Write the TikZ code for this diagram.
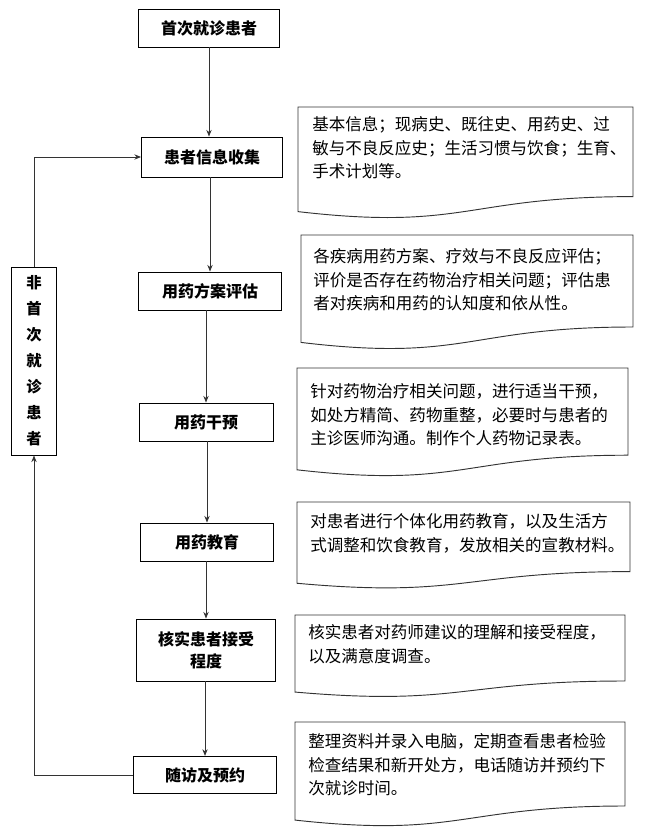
\documentclass[tikz,border=0pt]{standalone}
\usepackage{fontspec}
\setmainfont{Noto Sans CJK SC}
\usepackage{tikz}
\usetikzlibrary{calc,arrows.meta,positioning}

\tikzset{
  proc/.style={draw, line width=0.7pt, minimum width=105pt, minimum height=28.5pt, inner sep=0pt, align=center, font=\fontsize{12}{16.5}\selectfont\bfseries},
  side/.style={draw, line width=0.7pt, minimum width=34pt, minimum height=141pt, inner sep=0pt, align=center, font=\fontsize{11.5}{19.5}\selectfont\bfseries},
  note/.style={anchor=north west, inner sep=0pt, align=left, font=\fontsize{12.4}{17.6}\selectfont},
  docline/.style={line width=0.7pt, black!80},
  flow/.style={line width=0.7pt, black!80, -{Stealth[length=5pt,width=4pt]}}
}

% document shape: left, top, right, height
\newcommand{\docshape}[4]{%
  \draw[docline] (#1,#2) -- (#3,#2) -- (#3,#2+0.80*#4)
    .. controls ({(#1+#3)/2},#2+0.80*#4) and ({(#1+#3)/2},#2+1.107*#4) .. (#1,#2+0.934*#4) -- cycle;}

\begin{document}
\begin{tikzpicture}[x=0.75pt,y=-0.75pt]
  \useasboundingbox (0,0) rectangle (644,840);

  % main column
  \node[proc, minimum width=105.75pt] (first) at (209,28) {首次就诊患者};
  \node[proc, minimum width=105.75pt, minimum height=30pt] (collect) at (212,157) {患者信息收集};
  \node[proc, minimum width=107pt] (assess) at (210,291) {用药方案评估};
  \node[proc, minimum width=100.5pt] (interv) at (206,422) {用药干预};
  \node[proc, minimum width=100pt] (educ) at (207,542) {用药教育};
  \node[proc, minimum width=104pt, minimum height=46.5pt] (accept) at (206,650) {核实患者接受\\程度};
  \node[proc, minimum width=107pt, minimum height=28pt] (follow) at (205,775) {随访及预约};
  \node[side] (nonfirst) at (34,361) {非\\首\\次\\就\\诊\\患\\者};

  \draw[flow] (first) -- (first |- collect.north);
  \draw[flow] (collect.south -| assess) -- (assess.north);
  \draw[flow] (assess.south -| interv) -- (interv.north);
  \draw[flow] (interv.south -| educ) -- (educ.north);
  \draw[flow] (educ.south -| accept) -- (accept.north);
  \draw[flow] (accept.south -| follow) -- (follow.north);

  % return loop
  \draw[flow] (follow.west) -| (nonfirst.south);
  \draw[flow] (nonfirst.north) |- (collect.west);

  % notes
  \docshape{298}{107}{633}{112}
  \node[note] (infonote) at (312,116.5) {基本信息；现病史、既往史、用药史、过\\敏与不良反应史；生活习惯与饮食；生育、\\手术计划等。};
  \docshape{301}{235}{633}{115}
  \node[note] (assessnote) at (313,248.5) {各疾病用药方案、疗效与不良反应评估；\\评价是否存在药物治疗相关问题；评估患\\者对疾病和用药的认知度和依从性。};
  \docshape{297}{368}{628}{109}
  \node[note] (intervnote) at (310,383.5) {针对药物治疗相关问题，进行适当干预，\\如处方精简、药物重整，必要时与患者的\\主诊医师沟通。制作个人药物记录表。};
  \docshape{297}{502}{630}{87}
  \node[note] (educnote) at (310,513.5) {对患者进行个体化用药教育，以及生活方\\式调整和饮食教育，发放相关的宣教材料。};
  \docshape{295}{615}{625}{82.5}
  \node[note] (acceptnote) at (308,624.5) {核实患者对药师建议的理解和接受程度，\\以及满意度调查。};
  \docshape{295}{722}{625}{105}
  \node[note] (follownote) at (308,733.5) {整理资料并录入电脑，定期查看患者检验\\检查结果和新开处方，电话随访并预约下\\次就诊时间。};
\end{tikzpicture}
\end{document}
